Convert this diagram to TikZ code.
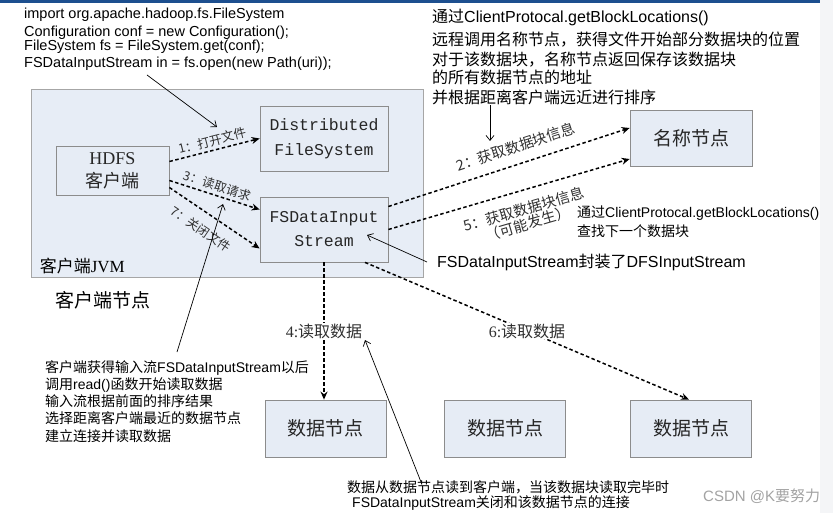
\documentclass[tikz,border=0pt]{standalone}
\usepackage{fontspec}
\setmainfont{Liberation Sans}
\newfontfamily\zhfont{Noto Sans CJK SC}
\newfontfamily\serfont{Liberation Serif}
\newfontfamily\codefont{Liberation Mono}
\newcommand\zh[1]{{\zhfont #1}}
\newcommand\sz[2]{\fontsize{#1}{#2}\selectfont}
\usepackage{xcolor}
\usepackage{tikz}
\usetikzlibrary{arrows.meta,positioning,calc}
\definecolor{boxfill}{HTML}{E6ECF5}
\definecolor{boxline}{HTML}{8C8C8C}
\definecolor{jvmfill}{HTML}{E7EDF6}
\definecolor{jvmline}{HTML}{A6A6A6}
\definecolor{topbar}{HTML}{1D4F8F}
\definecolor{sidebar}{HTML}{F4F5F7}
\definecolor{markgray}{HTML}{A3A3A3}
\definecolor{labelgray}{HTML}{303030}

\begin{document}
\begin{tikzpicture}[x=1pt, y=-1pt,
  every node/.style={inner sep=0pt},
  box/.style={draw=boxline, fill=boxfill, line width=0.8pt, align=center, text=black!85},
  flow/.style={line width=1.5pt, dash pattern=on 3.5pt off 2.5pt,
    -{Stealth[length=8pt,width=7pt]}},
  pointer/.style={line width=0.7pt, -{Straight Barb[length=5pt,width=8pt]}},
  steplabel/.style={sloped, inner sep=2pt, text=labelgray, font=\zhfont\sz{12.5}{14}},
  readlabel/.style={fill=white, inner sep=1pt, text=labelgray, font=\sz{16}{18}},
  note/.style={anchor=north west, align=left}]
  \useasboundingbox (0,0) rectangle (833,513);
  \fill[white] (0,0) rectangle (833,513);
  \fill[sidebar] (820,0) rectangle (833,513);
  \fill[topbar] (0,0) rectangle (820,3);

  % client JVM
  \node[draw=jvmline, fill=jvmfill, line width=0.8pt,
    minimum width=392pt, minimum height=188pt] (jvm) at (227,183) {};
  \node[anchor=south west, font=\sz{17}{20}] (jvmlabel)
    at ([xshift=9pt,yshift=3pt]jvm.south west) {\zh{客户端}\serfont JVM};
  \node[anchor=west, font=\zhfont\sz{19}{22}] (clientnode) at (55,300) {客户端节点};

  \node[box, minimum width=113pt, minimum height=49pt, font=\sz{18}{23}] (hdfs)
    at (112.5,170.5) {{\serfont HDFS}\\\zh{客户端}};
  \node[box, minimum width=128pt, minimum height=65pt, font=\codefont\sz{16.5}{25}] (dfs)
    at (324,138.5) {Distributed\\FileSystem};
  \node[box, minimum width=128pt, minimum height=65pt, font=\codefont\sz{16.5}{24}] (fsin)
    at (324,229.5) {FSDataInput\\Stream};

  % name node and data nodes
  \node[box, minimum width=122pt, minimum height=56pt, font=\zhfont\sz{19}{22}] (namenode)
    at (691,138) {名称节点};
  \node[box, minimum width=121pt, minimum height=57pt, font=\zhfont\sz{19}{22}] (dn1)
    at (325.5,428.5) {数据节点};
  \node[box, minimum width=121pt, minimum height=57pt, font=\zhfont\sz{19}{22}] (dn2)
    at (505,428.5) {数据节点};
  \node[box, minimum width=121pt, minimum height=57pt, font=\zhfont\sz{19}{22}] (dn3)
    at (691,428.5) {数据节点};

  % numbered steps
  \draw[flow] ([yshift=9pt]hdfs.east) -- node[steplabel, above=1pt] {1：打开文件} (dfs.west);
  \draw[flow] ([yshift=-10pt]hdfs.east) -- node[steplabel, above=1pt] {3：读取请求}
    ([yshift=20pt]fsin.west);
  \draw[flow] ([yshift=-17pt]hdfs.east) -- node[steplabel, below=8pt, pos=0.45] {7：关闭文件}
    ([yshift=-19pt]fsin.west);
  \draw[flow] ([yshift=23pt]fsin.east) -- node[steplabel, above=8pt, pos=0.55,
    font=\zhfont\sz{14.5}{16}] {2：获取数据块信息} ([yshift=10pt]namenode.west);
  \draw[flow] (fsin.east) -- node[steplabel, below=9pt, pos=0.54, align=center,
    font=\zhfont\sz{14.5}{15}] {5：获取数据块信息\\（可能发生）} ([yshift=-21pt]namenode.west);
  \draw[flow] (fsin.south) -- node[readlabel] {{\serfont 4:}\zh{读取数据}} (fsin.south |- dn1.north);
  \draw[flow] ([xshift=41pt]fsin.south) -- node[readlabel] {{\serfont 6:}\zh{读取数据}}
    ([xshift=-2pt]dn3.north);

  % notes
  \node[note, font=\sz{14.5}{16}] (code) at (24,7.5)
    {import org.apache.hadoop.fs.FileSystem\\[2pt]
     Configuration conf = new Configuration();\\[-2pt]
     FileSystem fs = FileSystem.get(conf);\\[1pt]
     FSDataInputStream in = fs.open(new Path(uri));};
  \coordinate (codefoot) at (147,75);
  \coordinate (codetip) at (217,127);
  \draw[pointer] (codefoot) -- (codetip);

  \node[note, font=\sz{16}{20}] (locnote) at (432,9)
    {\zh{通过}ClientProtocal.getBlockLocations()\\[3pt]
     \zh{远程调用名称节点，获得文件开始部分数据块的位置}\\
     \zh{对于该数据块，名称节点返回保存该数据块}\\[-2pt]
     \zh{的所有数据节点的地址}\\
     \zh{并根据距离客户端远近进行排序}};
  \coordinate (sorttip) at (490,141);
  \draw[pointer] (sorttip |- locnote.south) -- (sorttip);

  \node[note, font=\sz{14}{19}] (nextnote) at (577,205.5)
    {\zh{通过}ClientProtocal.getBlockLocations()\\\zh{查找下一个数据块}};

  \node[anchor=west, font=\sz{16}{18}] (wrapnote) at (437,262)
    {FSDataInputStream\zh{封装了}DFSInputStream};
  \coordinate (wraptip) at (367,235);
  \draw[pointer] ([xshift=-10pt]wrapnote.west) -- (wraptip);

  \node[note, font=\sz{14}{17.3}] (readnote) at (45,360)
    {\zh{客户端获得输入流}FSDataInputStream\zh{以后}\\
     \zh{调用}read()\zh{函数开始读取数据}\\
     \zh{输入流根据前面的排序结果}\\
     \zh{选择距离客户端最近的数据节点}\\
     \zh{建立连接并读取数据}};
  \coordinate (readfoot) at (177,352);
  \coordinate (readtip) at (223,204);
  \draw[pointer] (readfoot) -- (readtip);

  \node[note, font=\sz{14}{15}] (closenote) at (347,480)
    {\zh{数据从数据节点读到客户端，当该数据块读取完毕时}\\
     \hspace*{5pt}FSDataInputStream\zh{关闭和该数据节点的连接}};
  \coordinate (closefoot) at (421,482);
  \coordinate (closetip) at (365,340);
  \draw[pointer] (closefoot) -- (closetip);

  \node[anchor=west, text=markgray, font=\sz{15}{17}] (mark) at (703,496) {CSDN @K\zh{要努力}};
\end{tikzpicture}
\end{document}
